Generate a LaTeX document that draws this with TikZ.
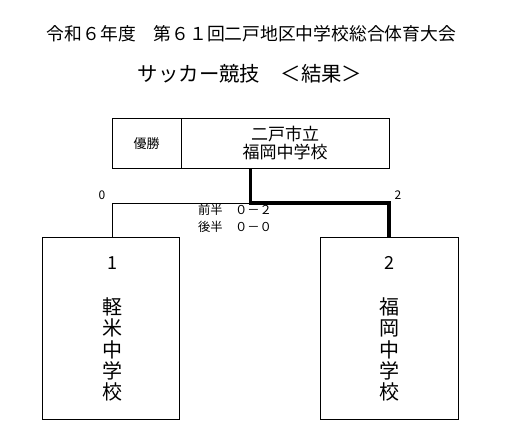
\documentclass[tikz,border=0pt]{standalone}
\usepackage{fontspec}
\setmainfont{Noto Sans CJK JP}
\begin{document}
\begin{tikzpicture}[x=1pt,y=-1pt,
  box/.style={draw,line width=0.8pt},
  thin/.style={line width=0.8pt},
  thick/.style={line width=3.2pt},
  lbl/.style={inner sep=0pt,font=\fontsize{12.3}{14}\selectfont}]
\useasboundingbox (0,0) rectangle (517,439);
\node[inner sep=0pt,font=\fontsize{17.8}{20}\selectfont] (t1) at (251.5,34) {令和６年度　第６１回二戸地区中学校総合体育大会};
\node[inner sep=0pt,font=\fontsize{20.4}{22}\selectfont] (t2) at (250,74) {サッカー競技　＜結果＞};
% winner box
\node[box,minimum width=69,minimum height=50,inner sep=0pt] (wl) at (146.5,143.5) {};
\node[box,minimum width=208,minimum height=50,inner sep=0pt] (wr) at (285,143.5) {};
\node[inner sep=0pt,font=\fontsize{13}{14}\selectfont] (wt) at (wl.center) {優勝};
\node[inner sep=0pt,align=center,font=\fontsize{17}{18}\selectfont] (wn) at (wr.center) {二戸市立\\福岡中学校};
% team boxes
\node[box,minimum width=137,minimum height=182,inner sep=0pt] (a) at (110.5,328) {};
\node[box,minimum width=138,minimum height=182,inner sep=0pt] (b) at (389,328) {};
\node[inner sep=0pt,font=\fontsize{18}{19}\selectfont] (an) at (112,263) {1};
\node[inner sep=0pt,font=\fontsize{18}{19}\selectfont] (bn) at (389,263) {2};
\node[inner sep=0pt,align=center,font=\fontsize{20}{21.3}\selectfont] (as) at (112,349.5) {軽\\米\\中\\学\\校};
\node[inner sep=0pt,align=center,font=\fontsize{20}{21.3}\selectfont] (bs) at (389,349.5) {福\\岡\\中\\学\\校};
% bracket
\coordinate (m) at (250.5,203);
\coordinate (ml) at (112,203);
\coordinate (mr) at (389,203);
\draw[thin] (m) -- (ml) -- (ml |- a.north);
\draw[thick] (wr.south -| m) -- (m) -- (mr) -- (b.north);
\node[inner sep=0pt,font=\fontsize{12}{13}\selectfont] (s0) at (102,195) {0};
\node[inner sep=0pt,font=\fontsize{12}{13}\selectfont] (s2) at (398,195) {2};
\node[lbl] (h1) at (235,210) {前半　０－２};
\node[lbl] (h2) at (235,227) {後半　０－０};
\end{tikzpicture}
\end{document}
